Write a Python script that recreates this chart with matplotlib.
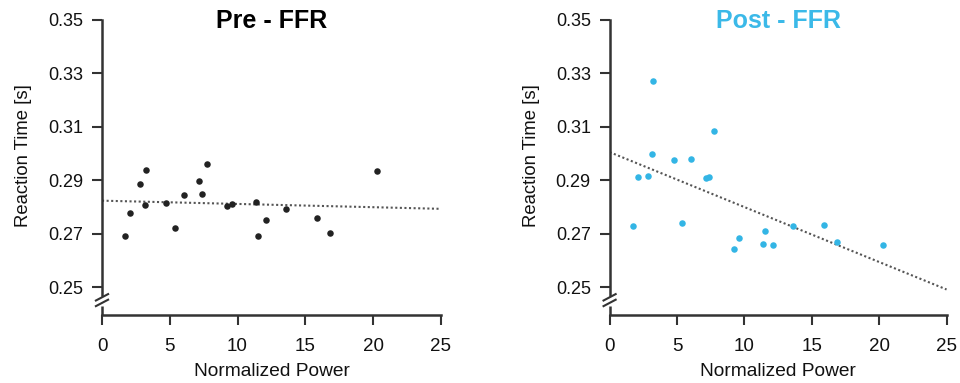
import numpy as np
import matplotlib
matplotlib.use("Agg")
import matplotlib.pyplot as plt

plt.rcParams['font.family'] = ['Liberation Sans', 'DejaVu Sans']

power = [1.72, 2.08, 2.82, 3.18, 3.24, 4.75, 5.39, 6.03, 7.18, 7.36,
         7.71, 9.25, 9.57, 11.36, 11.53, 12.10, 13.61, 15.88, 16.84, 20.32]
rt_pre = [0.2693, 0.2779, 0.2887, 0.2807, 0.2939, 0.2815, 0.2720, 0.2846, 0.2898, 0.2850,
          0.2959, 0.2805, 0.2811, 0.2817, 0.2693, 0.2753, 0.2794, 0.2759, 0.2703, 0.2934]
rt_post = [0.2727, 0.2913, 0.2915, 0.3000, 0.3270, 0.2974, 0.2739, 0.2980, 0.2908, 0.2913,
           0.3085, 0.2641, 0.2685, 0.2663, 0.2711, 0.2656, 0.2729, 0.2733, 0.2670, 0.2659]
titles = ["Pre - FFR", "Post - FFR"]
xticks = [0, 5, 10, 15, 20, 25]
yticks = [0.25, 0.27, 0.29, 0.31, 0.33, 0.35]

AX_COL = "#333333"
TXT_COL = "#111111"
colors = ["#222222", "#33b5e5"]
title_colors = ["#000000", "#3bb9e8"]

W, H = 960, 383
fig = plt.figure(figsize=(W / 100, H / 100), dpi=100)
ax_pos = [[0.10625, 0.177, 0.353, 0.771], [0.635, 0.177, 0.351, 0.771]]
ylo, yhi = 0.2395, 0.35
xlo, xhi = 0, 25

for i, rt in enumerate([rt_pre, rt_post]):
    ax = fig.add_axes(ax_pos[i])
    ax.scatter(power, rt, s=22, color=colors[i], zorder=3, linewidths=0)
    coef = np.polyfit(power, rt, 1)
    xs = np.array([xlo, xhi])
    ax.plot(xs, np.polyval(coef, xs), linestyle=(0, (1, 1.2)), color="#555555", lw=1.5, zorder=2)
    ax.set_xlim(xlo, xhi)
    ax.set_ylim(ylo, yhi)
    ax.set_xticks(xticks)
    ax.set_yticks(yticks)
    ax.set_yticklabels([f"{t:.2f}" for t in yticks])
    ax.tick_params(direction='out', length=7, width=1.5, color=AX_COL, labelcolor=TXT_COL)
    ax.tick_params(axis='y', labelsize=13, pad=6.5)
    ax.tick_params(axis='x', labelsize=13.5, pad=9.5)
    for s in ['top', 'right']:
        ax.spines[s].set_visible(False)
    ax.spines['bottom'].set_color(AX_COL)
    ax.spines['bottom'].set_linewidth(1.8)
    ax.spines['left'].set_color(AX_COL)
    ax.spines['left'].set_linewidth(1.8)
    # broken y axis
    yb_top, yb_bot = 0.2472, 0.2430
    ax.spines['left'].set_bounds(yb_top, yhi)
    ax.plot([0, 0], [ylo, yb_bot], color=AX_COL, lw=1.8, clip_on=False, zorder=4,
            solid_capstyle='butt')
    trans = ax.get_yaxis_transform()
    for yc in [0.2462, 0.2441]:
        ax.plot([-0.018, 0.018], [yc - 0.0012, yc + 0.0012], color=AX_COL, lw=1.5,
                transform=trans, clip_on=False, zorder=4)
    ax.set_xlabel("Normalized Power", fontsize=13.8, color=TXT_COL, labelpad=6)
    ax.set_ylabel("Reaction Time [s]", fontsize=13.3, color=TXT_COL)
    ax_w_px = ax_pos[i][2] * W
    ax.yaxis.set_label_coords(-70.0 / ax_w_px, 0.54)
    cx = ax_pos[i][0] + ax_pos[i][2] / 2
    fig.text(cx, 0.926, titles[i], fontsize=18, fontweight='bold', color=title_colors[i],
             ha='center', va='baseline')

fig.savefig("out.png", dpi=100)
